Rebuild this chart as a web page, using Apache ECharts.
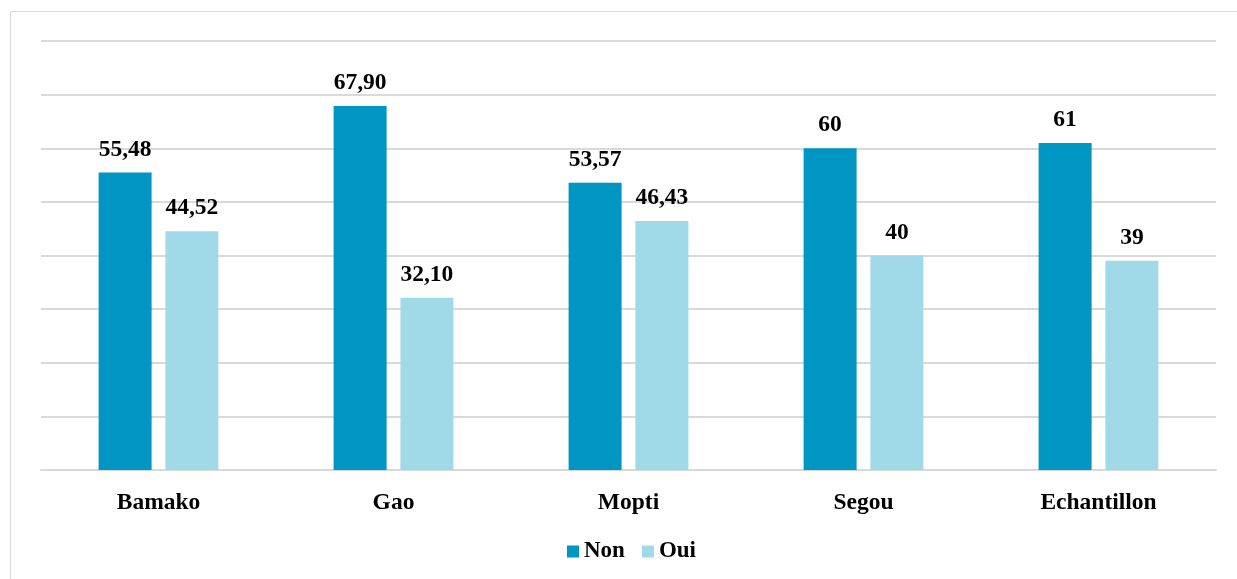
<!DOCTYPE html>
<html><head><meta charset="utf-8">
<script src="https://cdn.jsdelivr.net/npm/echarts@6/dist/echarts.min.js"></script>
<style>html,body{margin:0;padding:0;background:#fff}#c{width:1237px;height:579px}</style>
</head><body><div id="c"></div>
<script>
const categories = ['Bamako', 'Gao', 'Mopti', 'Segou', 'Echantillon'];
const nonValues = [55.48, 67.90, 53.57, 60, 61];
const ouiValues = [44.52, 32.10, 46.43, 40, 39];
const nonLabels = ['55,48', '67,90', '53,57', '60', '61'];
const ouiLabels = ['44,52', '32,10', '46,43', '40', '39'];

const font = 'Liberation Serif, Times New Roman, serif';
const chart = echarts.init(document.getElementById('c'));
chart.setOption({
  animation: false,
  graphic: [{type: 'rect', shape: {x: 10.5, y: 11.5, width: 1240, height: 580}, style: {fill: 'none', stroke: '#d9d9d9', lineWidth: 1}}],
  grid: {left: 41, right: 21, top: 41, bottom: 109},
  legend: {
    bottom: 11, left: 562, itemWidth: 12, itemHeight: 12, itemGap: 17,
    icon: 'rect',
    textStyle: {fontFamily: font, fontWeight: 'bold', fontSize: 23, color: '#000'},
    data: ['Non', 'Oui']
  },
  xAxis: {
    type: 'category', data: categories,
    axisLine: {lineStyle: {color: '#d9d9d9', width: 2}},
    axisTick: {show: false},
    axisLabel: {fontFamily: font, fontWeight: 'bold', fontSize: 23.5, color: '#000', margin: 21}
  },
  yAxis: {
    type: 'value', min: 0, max: 80, interval: 10,
    axisLabel: {show: false}, axisLine: {show: false}, axisTick: {show: false},
    splitLine: {lineStyle: {color: '#d9d9d9', width: 2}}
  },
  series: [
    {name: 'Non', type: 'bar', data: nonValues, barWidth: 53, barGap: '26%',
     itemStyle: {color: '#0096c4'},
     label: {show: true, position: 'top', distance: 11, fontFamily: font, fontWeight: 'bold', fontSize: 23.5, color: '#000',
       formatter: p => nonLabels[p.dataIndex]}},
    {name: 'Oui', type: 'bar', data: ouiValues, barWidth: 53,
     itemStyle: {color: '#a0dae8'},
     label: {show: true, position: 'top', distance: 11, fontFamily: font, fontWeight: 'bold', fontSize: 23.5, color: '#000',
       formatter: p => ouiLabels[p.dataIndex]}}
  ]
});
</script></body></html>
